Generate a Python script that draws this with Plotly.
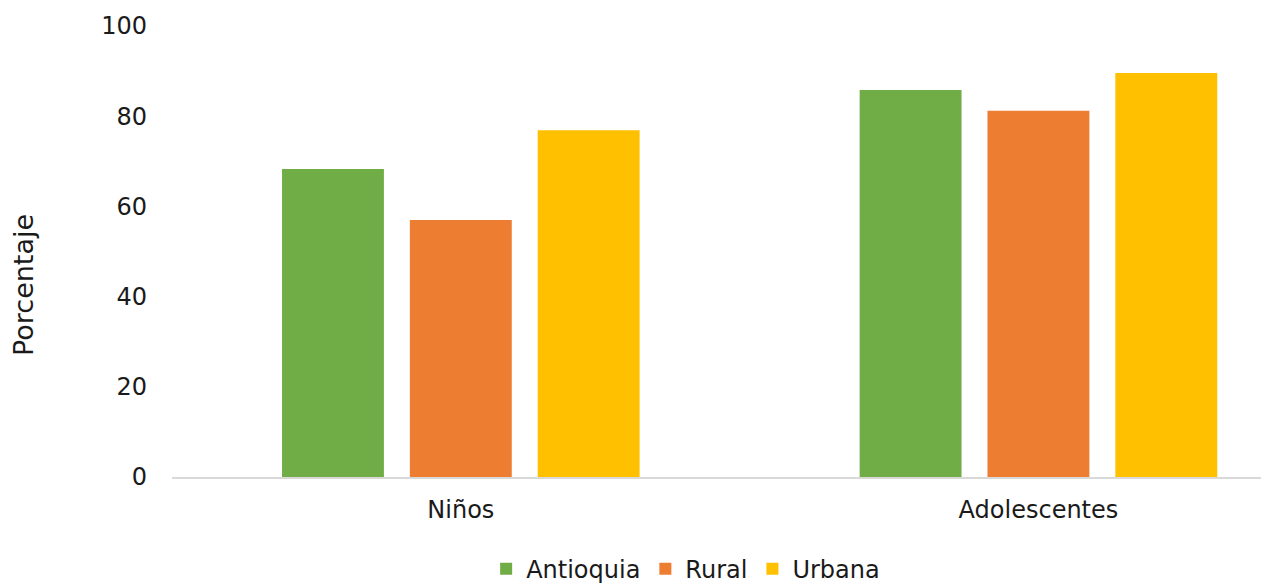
import plotly.graph_objects as go

categories = ["Niños", "Adolescentes"]
antioquia = [68.3, 85.8]
rural = [57.0, 81.2]
urbana = [76.9, 89.6]

SERIES = [
    ("Antioquia", antioquia, "#70AD47"),
    ("Rural", rural, "#ED7D31"),
    ("Urbana", urbana, "#FFC000"),
]

W, H = 1269, 587
FONT = "DejaVu Sans"

fig = go.Figure()
for name, vals, color in SERIES:
    fig.add_trace(
        go.Bar(
            x=categories,
            y=vals,
            name=name,
            marker=dict(color=color, line=dict(width=0)),
        )
    )

# the page body adds an 8px offset, margins compensate for it
fig.update_layout(
    width=W,
    height=H,
    margin=dict(l=164, r=0, t=18, b=118),
    plot_bgcolor="white",
    paper_bgcolor="white",
    font=dict(family=FONT, size=24, color="#1a1a1a"),
    barmode="group",
    bargap=0.336,
    bargroupgap=0.203,
    showlegend=True,
    legend=dict(
        orientation="h",
        x=0.534,
        xref="container",
        xanchor="center",
        y=0.044,
        yref="container",
        yanchor="middle",
        font=dict(size=24),
        itemwidth=30,
        tracegroupgap=0,
    ),
    annotations=[
        dict(
            text="Porcentaje",
            xref="paper",
            yref="paper",
            x=-0.1348,
            y=0.4257,
            xanchor="center",
            yanchor="middle",
            textangle=-90,
            showarrow=False,
            font=dict(size=27),
        )
    ],
)

fig.update_xaxes(
    type="category",
    range=[-0.5, 1.413],
    showline=True,
    linecolor="#D9D9D9",
    linewidth=2,
    showgrid=False,
    ticks="",
    ticklabelstandoff=10,
)
fig.update_yaxes(
    range=[0, 100],
    tickvals=[0, 20, 40, 60, 80, 100],
    showgrid=False,
    zeroline=False,
    showline=False,
    ticks="",
    ticklabelstandoff=24,
)

fig.write_html("out.html")
